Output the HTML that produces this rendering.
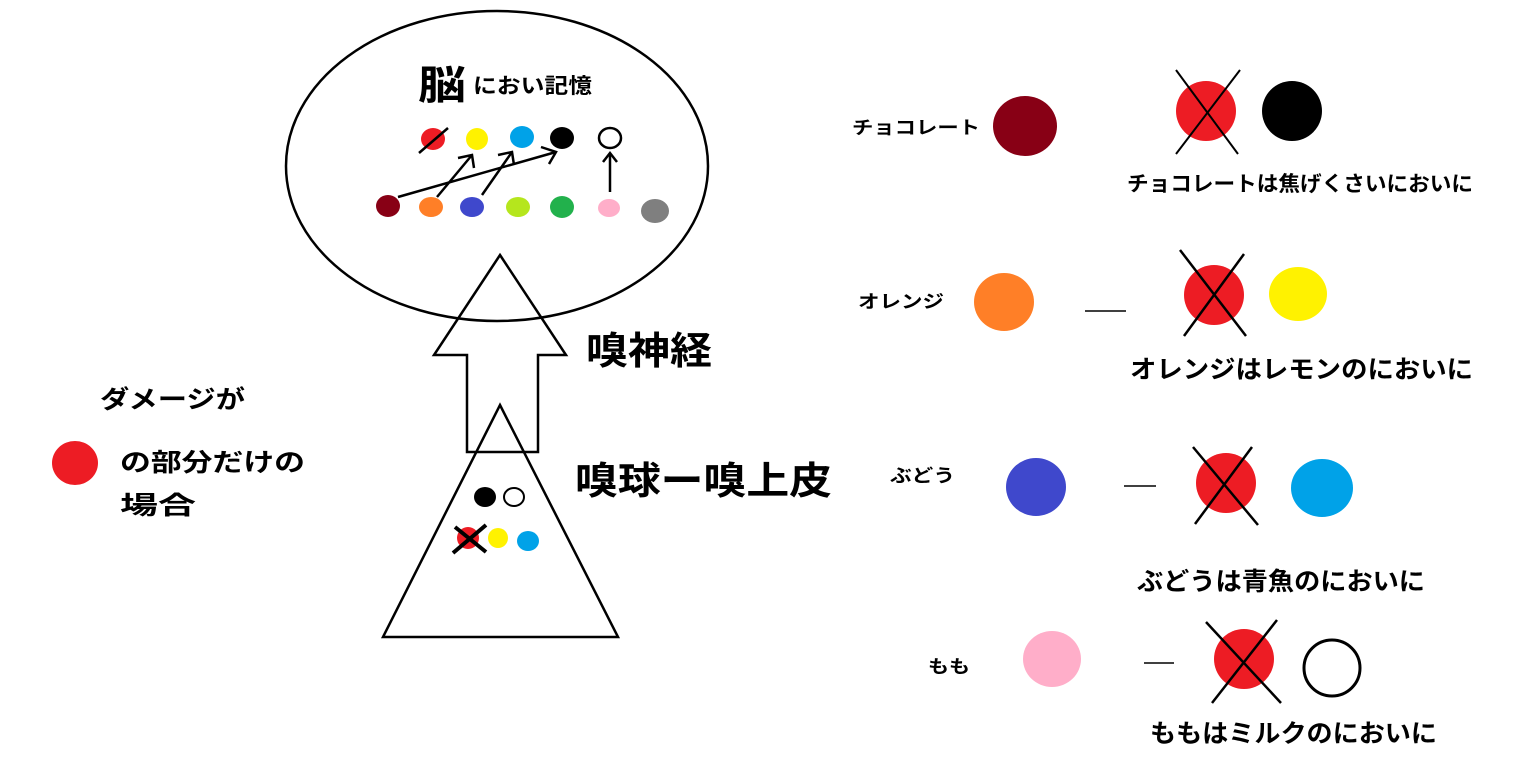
<!DOCTYPE html>
<html><head><meta charset="utf-8"><style>
html,body{margin:0;padding:0;background:#fff;width:1536px;height:781px;overflow:hidden}
svg text{font-family:"Liberation Sans","Noto Sans CJK JP",sans-serif;font-weight:bold;fill:#000}
</style></head><body>
<svg width="1536" height="781" viewBox="0 0 1536 781" xmlns="http://www.w3.org/2000/svg">
<g fill="none" stroke="#000" stroke-width="2.5">
<ellipse cx="497" cy="166" rx="211" ry="155"/>
<polygon points="500,255 566,355 538,355 538,452 467,452 467,355 434,355"/>
<polygon points="500,405 618,637 383,637"/>
</g>
<text x="418" y="99" font-size="40" textLength="48" lengthAdjust="spacingAndGlyphs">脳</text>
<text x="473" y="93" font-size="21" textLength="119" lengthAdjust="spacingAndGlyphs">におい記憶</text>
<ellipse cx="433" cy="139" rx="12" ry="11" fill="#ed1c24"/>
<line x1="419" y1="153" x2="448" y2="128" stroke="#000" stroke-width="2.5"/>
<ellipse cx="477" cy="139" rx="11" ry="11" fill="#fff200"/>
<ellipse cx="522" cy="137" rx="12" ry="11" fill="#00a2e8"/>
<ellipse cx="562" cy="138" rx="12" ry="11" fill="#000"/>
<ellipse cx="610" cy="138" rx="11" ry="10" fill="#fff" stroke="#000" stroke-width="2.5"/>
<ellipse cx="388" cy="206" rx="12" ry="11" fill="#880015"/>
<ellipse cx="431" cy="207" rx="12" ry="10" fill="#ff7f27"/>
<ellipse cx="472" cy="207" rx="12" ry="10" fill="#3f48cc"/>
<ellipse cx="518" cy="207" rx="12" ry="10" fill="#b5e61d"/>
<ellipse cx="562" cy="207" rx="12" ry="11" fill="#22b14c"/>
<ellipse cx="609" cy="208" rx="11" ry="9" fill="#ffaec9"/>
<ellipse cx="655" cy="211" rx="14" ry="12" fill="#7f7f7f"/>
<g stroke="#000" stroke-width="2.5" fill="none">
<line x1="398" y1="197" x2="556" y2="152"/><polyline points="541,147 556,152 549,164"/>
<line x1="437" y1="197" x2="472" y2="155"/><polyline points="458,158 472,155 474,168"/>
<line x1="482" y1="195" x2="512" y2="152"/><polyline points="498,155 512,152 514,165"/>
<line x1="610" y1="192" x2="610" y2="153"/><polyline points="603,162 610,153 617,162"/>
</g>
<text x="586" y="364" font-size="38" textLength="126" lengthAdjust="spacingAndGlyphs">嗅神経</text>
<text x="575" y="494" font-size="38" textLength="257" lengthAdjust="spacingAndGlyphs">嗅球ー嗅上皮</text>
<ellipse cx="485" cy="497" rx="11" ry="10" fill="#000"/>
<ellipse cx="514" cy="497" rx="10" ry="9" fill="#fff" stroke="#000" stroke-width="2"/>
<ellipse cx="468" cy="538" rx="11" ry="11" fill="#ed1c24"/>
<g stroke="#000" stroke-width="4"><line x1="455" y1="527" x2="486" y2="552"/><line x1="486" y1="525" x2="453" y2="553"/></g>
<ellipse cx="498" cy="538" rx="10" ry="10" fill="#fff200"/>
<ellipse cx="528" cy="541" rx="11" ry="10" fill="#00a2e8"/>
<text x="100" y="408" font-size="25" textLength="145" lengthAdjust="spacingAndGlyphs">ダメージが</text>
<ellipse cx="75" cy="463" rx="23" ry="22" fill="#ed1c24"/>
<text x="120" y="471" font-size="25" textLength="185" lengthAdjust="spacingAndGlyphs">の部分だけの</text>
<text x="120" y="514" font-size="25" textLength="76" lengthAdjust="spacingAndGlyphs">場合</text>
<text x="852" y="134" font-size="18" textLength="128" lengthAdjust="spacingAndGlyphs">チョコレート</text>
<ellipse cx="1025" cy="126" rx="32" ry="30" fill="#880015"/>
<ellipse cx="1206" cy="111" rx="30" ry="30" fill="#ed1c24"/>
<g stroke="#000" stroke-width="2"><line x1="1176" y1="70" x2="1238" y2="154"/><line x1="1240" y1="70" x2="1176" y2="154"/></g>
<ellipse cx="1292" cy="111" rx="30" ry="30" fill="#000"/>
<text x="1127" y="191" font-size="21" textLength="346" lengthAdjust="spacingAndGlyphs">チョコレートは焦げくさいにおいに</text>
<text x="858" y="308" font-size="18" textLength="86" lengthAdjust="spacingAndGlyphs">オレンジ</text>
<ellipse cx="1004" cy="302" rx="30" ry="29" fill="#ff7f27"/>
<line x1="1085" y1="311" x2="1126" y2="311" stroke="#000" stroke-width="1.5"/>
<ellipse cx="1214" cy="295" rx="30" ry="30" fill="#ed1c24"/>
<g stroke="#000" stroke-width="2.5"><line x1="1180" y1="250" x2="1246" y2="336"/><line x1="1244" y1="254" x2="1184" y2="336"/></g>
<ellipse cx="1298" cy="294" rx="29" ry="27" fill="#fff200"/>
<text x="1130" y="378" font-size="25" textLength="343" lengthAdjust="spacingAndGlyphs">オレンジはレモンのにおいに</text>
<text x="890" y="482" font-size="18" textLength="65" lengthAdjust="spacingAndGlyphs">ぶどう</text>
<ellipse cx="1036" cy="487" rx="30" ry="29" fill="#3f48cc"/>
<line x1="1124" y1="486" x2="1156" y2="486" stroke="#000" stroke-width="1.5"/>
<ellipse cx="1226" cy="483" rx="30" ry="30" fill="#ed1c24"/>
<g stroke="#000" stroke-width="2.5"><line x1="1193" y1="447" x2="1258" y2="525"/><line x1="1252" y1="447" x2="1195" y2="524"/></g>
<ellipse cx="1322" cy="488" rx="31" ry="29" fill="#00a2e8"/>
<text x="1137" y="590" font-size="25" textLength="288" lengthAdjust="spacingAndGlyphs">ぶどうは青魚のにおいに</text>
<text x="928" y="673" font-size="18" textLength="42" lengthAdjust="spacingAndGlyphs">もも</text>
<ellipse cx="1052" cy="659" rx="29" ry="28" fill="#ffaec9"/>
<line x1="1144" y1="663" x2="1174" y2="663" stroke="#000" stroke-width="1.5"/>
<ellipse cx="1244" cy="659" rx="30" ry="30" fill="#ed1c24"/>
<g stroke="#000" stroke-width="2.5"><line x1="1206" y1="622" x2="1281" y2="703"/><line x1="1277" y1="620" x2="1212" y2="703"/></g>
<ellipse cx="1332" cy="668" rx="28" ry="28" fill="#fff" stroke="#000" stroke-width="3"/>
<text x="1150" y="742" font-size="25" textLength="287" lengthAdjust="spacingAndGlyphs">ももはミルクのにおいに</text>
</svg>
</body></html>
